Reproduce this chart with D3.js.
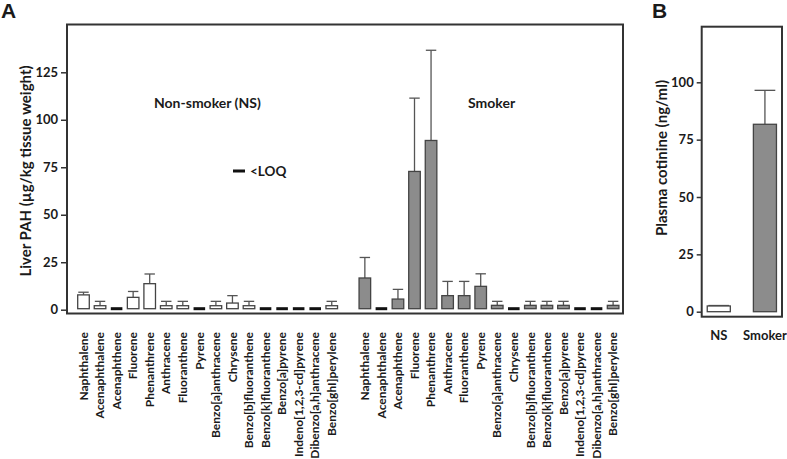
<!DOCTYPE html>
<html lang="en">
<head>
<meta charset="UTF-8">
<title>Liver PAH and plasma cotinine</title>
<script src="https://cdn.jsdelivr.net/npm/d3@7"></script>
<style>
    body { margin: 0; background: #fff; }
    svg text { font-family: Lato, "Open Sans", sans-serif; font-weight: bold; fill: #1a1a1a; }
    .frame { fill: none; stroke: #333; stroke-width: 2px; }
    .axis path { display: none; }
    .axis line { stroke: #333; stroke-width: 1.5px; }
    .axis text { font-size: 13px; }
    .ns { fill: #fff; stroke: #444; stroke-width: 1.3px; }
    .sm { fill: #8c8c8c; stroke: #444; stroke-width: 1.3px; }
    .err { stroke: #555; stroke-width: 1.3px; }
    .loq { fill: #111; }
</style>
</head>
<body>
<div id="chart"></div>
<script>
    // compounds, same order for both groups
    const compounds = ['Naphthalene', 'Acenaphthalene', 'Acenaphthene', 'Fluorene', 'Phenanthrene',
        'Anthracene', 'Fluoranthene', 'Pyrene', 'Benzo[a]anthracene', 'Chrysene',
        'Benzo[b]fluoranthene', 'Benzo[k]fluoranthene', 'Benzo[a]pyrene',
        'Indeno[1,2,3-cd]pyrene', 'Dibenzo[a,h]anthracene', 'Benzo[ghI]perylene'];

    // null = <LOQ
    const nsMean = [7.8, 2.1, null, 6.5, 13.7, 2.1, 2.1, null, 2.1, 3.5, 2.1, null, null, null, null, 2.1];
    const nsSD = [1.4, 2.3, null, 3.1, 5.1, 2.3, 2.3, null, 2.3, 3.9, 2.3, null, null, null, null, 2.3];
    const smMean = [16.7, null, 5.6, 72.8, 89.1, 7.4, 7.4, 12.3, 2.3, null, 2.3, 2.3, 2.3, null, null, 2.3];
    const smSD = [10.8, null, 5.1, 38.6, 47.5, 7.5, 7.5, 6.6, 2.1, null, 2.1, 2.1, 2.1, null, null, 2.1];

    const yTicksA = [0, 25, 50, 75, 100, 125];

    const cotGroups = ['NS', 'Smoker'];
    const cotMean = [2.5, 81.7];
    const cotSD = [0.2, 14.8];
    const yTicksB = [0, 25, 50, 75, 100];

    const W = 787, H = 459;
    const svg = d3.select('#chart').append('svg')
        .attr('width', W)
        .attr('height', H);

    // ---------- panel A ----------
    const rows = [];
    compounds.forEach((c, i) => rows.push({ key: 'ns' + i, name: c, mean: nsMean[i], sd: nsSD[i], cls: 'ns' }));
    rows.push({ key: 'gap', name: '', mean: undefined });
    compounds.forEach((c, i) => rows.push({ key: 'sm' + i, name: c, mean: smMean[i], sd: smSD[i], cls: 'sm' }));

    const xA = d3.scaleBand()
        .domain(rows.map(d => d.key))
        .range([77.7, 618.9])
        .paddingInner(0.3)
        .paddingOuter(0);

    const yA = d3.scaleLinear()
        .domain([0, 125])
        .range([309.7, 72.3]);

    const gA = svg.append('g');

    gA.append('g')
        .attr('class', 'axis')
        .attr('transform', 'translate(67,0)')
        .call(d3.axisLeft(yA).tickValues(yTicksA).tickSize(6).tickPadding(3));

    const bw = xA.bandwidth();
    const real = rows.filter(d => d.key !== 'gap');

    // error bars (upper only)
    const withVal = real.filter(d => d.mean !== null);
    gA.selectAll('.errA')
        .data(withVal)
        .enter()
        .append('g')
        .each(function (d) {
            const g = d3.select(this);
            const cx = xA(d.key) + bw / 2;
            g.append('line').attr('class', 'err')
                .attr('x1', cx).attr('x2', cx)
                .attr('y1', yA(d.mean)).attr('y2', yA(d.mean + d.sd));
            g.append('line').attr('class', 'err')
                .attr('x1', cx - bw * 0.45).attr('x2', cx + bw * 0.45)
                .attr('y1', yA(d.mean + d.sd)).attr('y2', yA(d.mean + d.sd));
        });

    gA.selectAll('.barA')
        .data(withVal)
        .enter()
        .append('rect')
        .attr('class', d => d.cls)
        .attr('x', d => xA(d.key))
        .attr('width', bw)
        .attr('y', d => yA(d.mean))
        .attr('height', d => yA(0) - yA(d.mean) - 1);

    gA.selectAll('.loqA')
        .data(real.filter(d => d.mean === null))
        .enter()
        .append('rect')
        .attr('class', 'loq')
        .attr('x', d => xA(d.key))
        .attr('width', bw)
        .attr('y', yA(0) - 2.5)
        .attr('height', 3);

    gA.append('rect')
        .attr('class', 'frame')
        .attr('x', 67).attr('y', 24.5)
        .attr('width', 556).attr('height', 289);

    gA.selectAll('.xlab')
        .data(real)
        .enter()
        .append('text')
        .attr('transform', d => `translate(${xA(d.key) + bw / 2},332) rotate(-90)`)
        .attr('dy', '0.35em')
        .attr('text-anchor', 'end')
        .style('font-size', '12px')
        .text(d => d.name);

    gA.append('text')
        .attr('transform', 'translate(26,171) rotate(-90)')
        .attr('dy', '0.35em')
        .attr('text-anchor', 'middle')
        .style('font-size', '15px')
        .text('Liver PAH (µg/kg tissue weight)');

    gA.append('text').attr('x', 154).attr('y', 108).style('font-size', '14px').text('Non-smoker (NS)');
    gA.append('text').attr('x', 468).attr('y', 108).style('font-size', '14px').text('Smoker');

    gA.append('rect').attr('class', 'loq').attr('x', 233).attr('y', 169.5).attr('width', 12).attr('height', 3);
    gA.append('text').attr('x', 250).attr('y', 171).attr('dy', '0.35em').style('font-size', '13.5px').text('<LOQ');

    svg.append('text').attr('x', 1).attr('y', 18)
        .style('font-family', 'Arial, "Liberation Sans", sans-serif')
        .style('font-size', '21px').text('A');

    // ---------- panel B ----------
    const xB = d3.scaleBand()
        .domain(cotGroups)
        .range([701.7, 782])
        .paddingInner(0.5)
        .paddingOuter(0.12);

    const yB = d3.scaleLinear()
        .domain([0, 100])
        .range([311.7, 82.3]);

    const gB = svg.append('g');

    gB.append('g')
        .attr('class', 'axis')
        .attr('transform', 'translate(701.7,0)')
        .call(d3.axisLeft(yB).tickValues(yTicksB).tickSize(5).tickPadding(3));

    const bwB = xB.bandwidth();
    cotGroups.forEach((g, i) => {
        const cx = xB(g) + bwB / 2;
        gB.append('line').attr('class', 'err')
            .attr('x1', cx).attr('x2', cx)
            .attr('y1', yB(cotMean[i])).attr('y2', yB(cotMean[i] + cotSD[i]));
        gB.append('line').attr('class', 'err')
            .attr('x1', cx - bwB * 0.45).attr('x2', cx + bwB * 0.45)
            .attr('y1', yB(cotMean[i] + cotSD[i])).attr('y2', yB(cotMean[i] + cotSD[i]));
    });

    gB.selectAll('.barB')
        .data(cotGroups)
        .enter()
        .append('rect')
        .attr('class', (d, i) => i === 0 ? 'ns' : 'sm')
        .attr('x', d => xB(d))
        .attr('width', bwB)
        .attr('y', (d, i) => yB(cotMean[i]))
        .attr('height', (d, i) => yB(0) - yB(cotMean[i]));

    gB.append('rect')
        .attr('class', 'frame')
        .attr('x', 701.7).attr('y', 26.7)
        .attr('width', 80.3).attr('height', 290);

    gB.selectAll('.xlabB')
        .data(cotGroups)
        .enter()
        .append('text')
        .attr('x', d => xB(d) + bwB / 2)
        .attr('y', 331)
        .attr('dy', '0.7em')
        .attr('text-anchor', 'middle')
        .style('font-size', '13px')
        .text(d => d);

    gB.append('text')
        .attr('transform', 'translate(662,158) rotate(-90)')
        .attr('dy', '0.35em')
        .attr('text-anchor', 'middle')
        .style('font-size', '15px')
        .text('Plasma cotinine (ng/ml)');

    svg.append('text').attr('x', 652).attr('y', 18)
        .style('font-family', 'Arial, "Liberation Sans", sans-serif')
        .style('font-size', '21px').text('B');
</script>
</body>
</html>
